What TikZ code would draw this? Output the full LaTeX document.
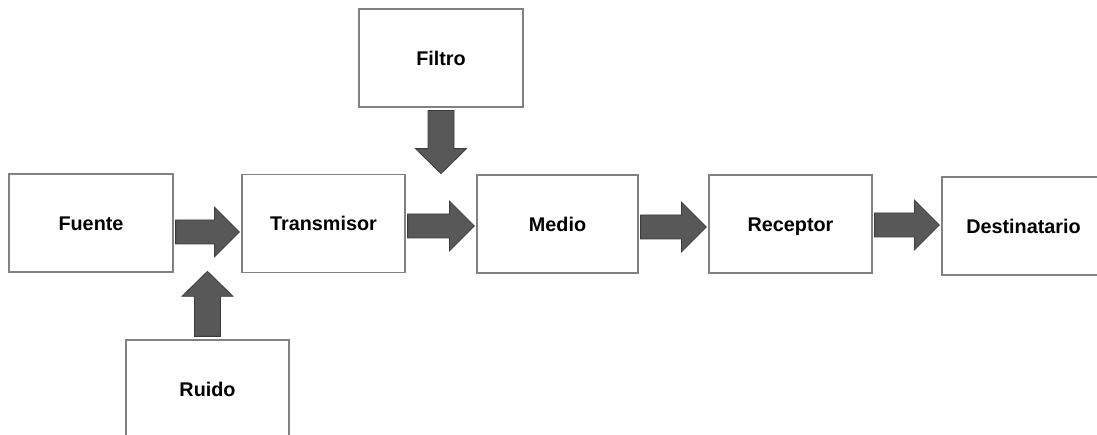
\documentclass[tikz,border=0pt]{standalone}
\usepackage{fontspec}
\setmainfont{Liberation Sans}
\usetikzlibrary{calc}
\definecolor{boxline}{RGB}{130,130,130}
\definecolor{arrowfill}{RGB}{88,88,88}
\definecolor{arrowline}{RGB}{60,60,60}
\tikzset{
  blockbox/.style={draw=boxline, line width=1.2pt, fill=white, minimum width=163pt, minimum height=98pt,
    inner sep=0pt, text height=15pt, text depth=0pt,
    font=\fontsize{19.8}{23}\selectfont\bfseries, text=black},
  blockarrow/.style={fill=arrowfill, draw=arrowline, line width=0.8pt, line join=miter}
}
% horizontal block arrow: from, to, downward shift (px)
\newcommand\hblock[3]{%
  \draw[blockarrow] let \p1=($(#1)+(2,#3)$), \p2=($(#2)+(-2,#3)$) in
    (\x1,\y1+12pt) -- (\x2-25pt,\y1+12pt) -- (\x2-25pt,\y1+25pt) -- (\x2,\y1)
    -- (\x2-25pt,\y1-25pt) -- (\x2-25pt,\y1-12pt) -- (\x1,\y1-12pt) -- cycle;}
% vertical block arrow: from, to, sign of head offset (+ for downward, - for upward)
\newcommand\vblock[3]{%
  \draw[blockarrow] let \p1=(#1), \p2=(#2) in
    (\x1-13pt,\y1) -- (\x1-13pt,\y2#3 25pt) -- (\x1-25.5pt,\y2#3 25pt) -- (\x1,\y2)
    -- (\x1+25.5pt,\y2#3 25pt) -- (\x1+13pt,\y2#3 25pt) -- (\x1+13pt,\y1) -- cycle;}
\begin{document}
\begin{tikzpicture}[x=1pt,y=-1pt]
\clip (0,0) rectangle (1097,435);
\useasboundingbox (0,0) rectangle (1097,435);
\fill[white] (0,0) rectangle (1097,435);

\node[blockbox, minimum width=164pt] (fuente) at (91,223) {Fuente};
\node[blockbox] (trans) at (323.5,223.5) {Transmisor};
\node[blockbox, minimum width=161pt] (medio) at (557.5,224) {Medio};
\node[blockbox] (receptor) at (790.5,224) {Receptor};
\node[blockbox] (dest) at (1023.5,226) {Destinatario};
\node[blockbox, minimum width=164pt] (filtro) at (441,58) {Filtro};
\node[blockbox] (ruido) at (207.5,389) {Ruido};

\coordinate (gaptop) at ($(trans.north east)!0.5!(medio.north west)$);
\coordinate (gapbot) at ($(fuente.south east)!0.5!(trans.south west)$);
\coordinate (filtroout) at ($(filtro.south)+(0,3)$);
\coordinate (filtrotip) at ($(filtroout |- gaptop)+(0,-0.5)$);
\coordinate (ruidoout) at ($(ruido.north)+(0,-3)$);
\coordinate (ruidotip) at ($(ruidoout |- gapbot)+(0,-1.5)$);

\hblock{fuente.east}{trans.west}{9}
\hblock{trans.east}{medio.west}{2.5}
\hblock{medio.east}{receptor.west}{3}
\hblock{receptor.east}{dest.west}{1}
\vblock{filtroout}{filtrotip}{+}
\vblock{ruidoout}{ruidotip}{-}
\end{tikzpicture}
\end{document}
